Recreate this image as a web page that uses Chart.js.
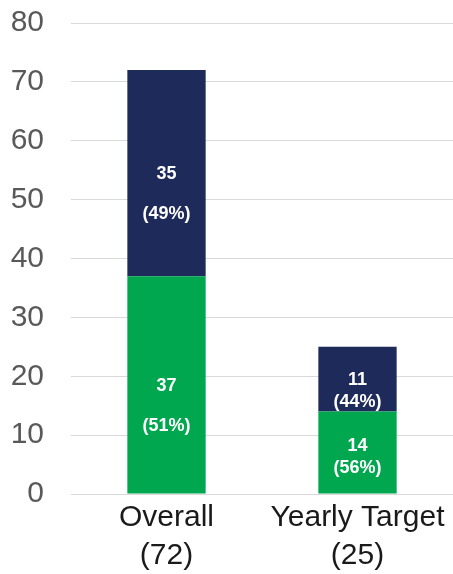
<!DOCTYPE html>
<html>
<head>
<meta charset="utf-8">
<script src="https://cdn.jsdelivr.net/npm/chart.js@4"></script>
<style>
  html, body { margin: 0; padding: 0; background: #fff; }
  #wrap { width: 453px; height: 574px; }
</style>
</head>
<body>
<div id="wrap"><canvas id="chartCanvas"></canvas></div>
<script>
// data
const categories = ['Overall', 'Yearly Target'];
const totals = [72, 25];
const greenValues = [37, 14];
const navyValues = [35, 11];
const yTicks = [0, 10, 20, 30, 40, 50, 60, 70, 80];

const green = '#00A74F';
const navy = '#1E2A5A';
const fontFamily = '"Liberation Sans", Arial, sans-serif';

// draws "value" and "(pct%)" in white inside each bar segment
const barLabels = {
    id: 'barLabels',
    afterDatasetsDraw(chart) {
        const ctx = chart.ctx;
        ctx.save();
        ctx.fillStyle = '#fff';
        ctx.font = 'bold 18px ' + fontFamily;
        ctx.textAlign = 'center';
        ctx.textBaseline = 'middle';
        chart.data.datasets.forEach((ds, di) => {
            chart.getDatasetMeta(di).data.forEach((bar, i) => {
                const v = ds.data[i];
                const pct = Math.round(v / totals[i] * 100);
                const h = Math.abs(bar.base - bar.y);
                const gap = h > 100 ? 40 : 22;
                let y1 = (bar.y + bar.base) / 2 + 1;
                // keep the bottom segment's second line off the axis
                if (di === 0) {
                    y1 -= Math.max(0, y1 + gap - (bar.base - 25));
                }
                ctx.fillText(String(v), bar.x, y1);
                ctx.fillText('(' + pct + '%)', bar.x, y1 + gap);
            });
        });
        ctx.restore();
    }
};

const ctx = document.getElementById('chartCanvas').getContext('2d');
new Chart(ctx, {
    type: 'bar',
    data: {
        labels: categories.map((c, i) => [c, '(' + totals[i] + ')']),
        datasets: [{
            label: 'Green',
            data: greenValues,
            backgroundColor: green
        }, {
            label: 'Navy',
            data: navyValues,
            backgroundColor: navy
        }]
    },
    options: {
        responsive: true,
        maintainAspectRatio: false,
        animation: false,
        layout: { padding: { left: 8, right: 0, top: 23, bottom: 0 } },
        categoryPercentage: 1,
        barPercentage: 0.41,
        scales: {
            x: {
                stacked: true,
                grid: { display: false },
                border: { display: true, color: '#d9d9d9', width: 1 },
                ticks: {
                    color: '#1a1a1a',
                    font: { size: 30, family: fontFamily, lineHeight: 1.25 },
                    padding: -3
                },
                afterFit: axis => {
                    axis.height = 80;
                    axis.paddingLeft = 0;
                    axis.paddingRight = 0;
                }
            },
            y: {
                stacked: true,
                min: 0,
                max: 80,
                afterBuildTicks: axis => { axis.ticks = yTicks.map(v => ({ value: v })); },
                grid: { color: '#d9d9d9', drawTicks: false },
                border: { display: false },
                ticks: {
                    color: '#595959',
                    font: { size: 30, family: fontFamily },
                    padding: 27
                },
                afterFit: axis => {
                    axis.width = 63;
                    axis.paddingTop = 0;
                    axis.paddingBottom = 0;
                }
            }
        },
        plugins: {
            legend: { display: false },
            tooltip: { enabled: false }
        }
    },
    plugins: [barLabels]
});
</script>
</body>
</html>
